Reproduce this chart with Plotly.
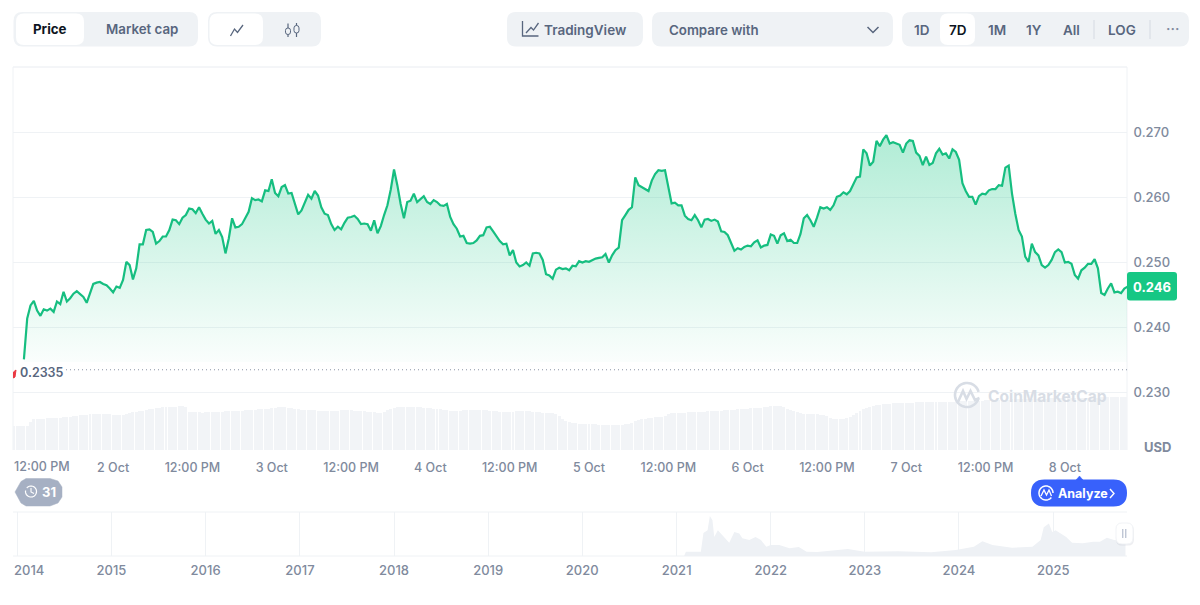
import math
import pandas as pd
import plotly.graph_objects as go

# Seven-day price, one reading every 30 minutes
prices = [
0.2351,0.2414,0.2434,0.2441,0.2426,0.2418,0.2428,0.2426,0.2429,0.2424,
0.2440,0.2436,0.2455,0.2440,0.2445,0.2452,0.2456,0.2451,0.2447,0.2438,
0.2453,0.2467,0.2469,0.2470,0.2467,0.2465,0.2460,0.2454,0.2463,0.2461,
0.2473,0.2501,0.2496,0.2474,0.2491,0.2528,0.2528,0.2550,0.2551,0.2547,
0.2529,0.2533,0.2540,0.2540,0.2550,0.2566,0.2565,0.2559,0.2569,0.2573,
0.2583,0.2582,0.2576,0.2585,0.2575,0.2566,0.2560,0.2564,0.2544,0.2550,
0.2539,0.2514,0.2537,0.2568,0.2554,0.2555,0.2559,0.2569,0.2578,0.2599,
0.2596,0.2597,0.2594,0.2611,0.2610,0.2628,0.2607,0.2602,0.2616,0.2619,
0.2606,0.2607,0.2592,0.2574,0.2580,0.2591,0.2604,0.2598,0.2610,0.2603,
0.2585,0.2575,0.2573,0.2559,0.2550,0.2555,0.2551,0.2561,0.2569,0.2570,
0.2572,0.2567,0.2559,0.2560,0.2559,0.2549,0.2565,0.2545,0.2556,0.2573,
0.2588,0.2612,0.2643,0.2619,0.2590,0.2568,0.2593,0.2595,0.2606,0.2593,
0.2598,0.2602,0.2593,0.2590,0.2596,0.2593,0.2588,0.2587,0.2590,0.2570,
0.2559,0.2552,0.2540,0.2541,0.2530,0.2529,0.2530,0.2534,0.2541,0.2542,
0.2554,0.2555,0.2548,0.2541,0.2533,0.2528,0.2529,0.2511,0.2519,0.2500,
0.2494,0.2496,0.2500,0.2495,0.2514,0.2515,0.2514,0.2504,0.2482,0.2480,
0.2475,0.2489,0.2492,0.2490,0.2491,0.2488,0.2495,0.2494,0.2502,0.2500,
0.2502,0.2501,0.2504,0.2506,0.2507,0.2508,0.2513,0.2500,0.2511,0.2519,
0.2523,0.2565,0.2573,0.2581,0.2585,0.2631,0.2619,0.2616,0.2612,0.2610,
0.2626,0.2636,0.2642,0.2641,0.2642,0.2616,0.2591,0.2592,0.2588,0.2588,
0.2572,0.2567,0.2565,0.2573,0.2565,0.2554,0.2566,0.2567,0.2564,0.2566,
0.2563,0.2548,0.2547,0.2542,0.2531,0.2518,0.2522,0.2520,0.2524,0.2526,
0.2525,0.2531,0.2534,0.2523,0.2526,0.2527,0.2543,0.2541,0.2529,0.2542,
0.2545,0.2533,0.2535,0.2530,0.2530,0.2544,0.2568,0.2573,0.2565,0.2555,
0.2569,0.2585,0.2583,0.2585,0.2581,0.2588,0.2601,0.2603,0.2608,0.2605,
0.2610,0.2620,0.2631,0.2632,0.2674,0.2668,0.2649,0.2655,0.2687,0.2679,
0.2689,0.2696,0.2683,0.2685,0.2683,0.2681,0.2669,0.2683,0.2688,0.2687,
0.2669,0.2664,0.2650,0.2663,0.2650,0.2653,0.2668,0.2675,0.2666,0.2668,
0.2660,0.2674,0.2670,0.2658,0.2622,0.2610,0.2601,0.2601,0.2589,0.2602,
0.2606,0.2605,0.2611,0.2613,0.2613,0.2619,0.2618,0.2646,0.2649,0.2606,
0.2575,0.2550,0.2540,0.2509,0.2501,0.2529,0.2516,0.2511,0.2496,0.2492,
0.2496,0.2504,0.2516,0.2520,0.2516,0.2500,0.2501,0.2498,0.2481,0.2475,
0.2488,0.2492,0.2498,0.2498,0.2505,0.2491,0.2453,0.2450,0.2460,0.2468,
0.2454,0.2455,0.2453,0.2460,0.2463,
]

# Trading volume for the same window, in millions of USD
volumes = [
24,24,24,24,24,28,31,31,31,31, 32,32,32,32,32,33,33,33,34,34,
35,35,35,36,36,36,36,36,36,36, 35,35,35,35,36,37,38,38,39,39,
40,41,41,42,42,43,43,43,43,43, 44,44,43,38,38,38,38,37,38,38,
38,38,38,38,39,39,39,39,39,39, 40,40,40,40,41,41,41,41,42,42,
43,43,43,42,42,41,41,40,40,40, 40,40,39,39,39,39,39,39,39,40,
40,40,40,39,39,39,39,38,38,38, 37,37,38,40,41,42,43,43,43,43,
43,43,43,43,42,42,42,41,41,41, 40,40,39,39,39,39,40,40,40,40,
40,40,40,40,39,39,39,38,38,38, 38,38,39,39,39,39,39,38,38,38,
37,37,37,37,36,34,31,29,28,27, 27,26,26,26,26,26,26,25,25,25,
25,25,25,25,25,26,26,27,29,30, 31,31,32,32,33,33,33,34,36,37,
37,37,37,37,38,38,38,38,38,38, 39,39,39,39,39,40,40,40,40,41,
41,41,41,42,42,42,42,43,43,44, 44,44,44,43,41,40,39,38,37,36,
36,36,36,36,35,35,34,32,31,31, 31,31,32,33,35,37,39,41,42,43,
44,45,45,46,46,46,47,47,47,47, 47,47,47,48,48,48,48,48,48,48,
48,48,48,48,48,48,49,49,49,49, 49,49,49,49,50,50,50,50,50,50,
50,50,51,51,51,51,51,51,51,51, 51,51,51,52,52,52,52,52,52,52,
52,52,52,52,52,52,52,52,52,53, 53,53,53,53,53,53,53,53,
]

# Long-range price history for the overview strip
history_dates = [
"2021-01-30","2021-02-06","2021-04-05","2021-04-15","2021-05-01","2021-05-10","2021-05-20","2021-05-27",
"2021-06-10","2021-07-05","2021-07-24","2021-08-13","2021-09-01","2021-09-13","2021-10-10","2021-11-03",
"2021-11-24","2021-12-15","2022-01-01","2022-02-03","2022-03-15","2022-04-20","2022-05-20","2022-07-01",
"2022-10-27","2023-01-01","2023-05-10","2023-09-15","2023-12-20","2024-02-28","2024-04-01","2024-05-10",
"2024-07-25","2024-10-12","2024-11-13","2024-11-25","2024-12-15","2024-12-28","2025-01-10","2025-02-20",
"2025-03-15","2025-04-25","2025-06-05","2025-07-01","2025-07-28","2025-08-25","2025-10-08",
]
history_prices = [
0.00,0.17,0.17,0.93,1.04,1.61,1.44,0.77,1.04,0.75,0.53,0.97,0.91,0.71,0.64,0.77,
0.64,0.37,0.44,0.44,0.31,0.36,0.17,0.16,0.28,0.17,0.19,0.15,0.24,0.37,0.59,0.44,
0.33,0.37,0.64,1.16,1.31,0.97,1.04,0.77,0.53,0.51,0.57,0.57,0.73,0.64,0.61,
]

day_ticks = [
"2025-10-02 00:00","2025-10-02 12:00","2025-10-03 00:00","2025-10-03 12:00","2025-10-04 00:00",
"2025-10-04 12:00","2025-10-05 00:00","2025-10-05 12:00","2025-10-06 00:00","2025-10-06 12:00",
"2025-10-07 00:00","2025-10-07 12:00","2025-10-08 00:00",
]
day_labels = ["2 Oct","12:00 PM","3 Oct","12:00 PM","4 Oct","12:00 PM","5 Oct","12:00 PM","6 Oct","12:00 PM","7 Oct","12:00 PM","8 Oct"]
price_ticks = [0.230, 0.240, 0.250, 0.260, 0.270]
year_ticks = [f"{y}-01-01" for y in range(2014, 2026)]
year_labels = [""] + [str(y) for y in range(2015, 2026)]

low_price = 0.2335
last_price = "0.246"
fill_floor = 0.2347

FONT = "Inter"
GREEN = "#16C784"
PANEL = "#EFF2F5"
GRID = "#EFF2F5"
SLATE = "#58667E"
MUTED = "#808A9D"
INK = "#0D1421"

W, H = 1200, 605
LEFT, RIGHT, TOP, BOTTOM = 13, 1127, 67, 556


def X(px):
    return (px - LEFT) / (RIGHT - LEFT)


def Y(py):
    return (BOTTOM - py) / (BOTTOM - TOP)


def poly(points, close=False):
    d = "M " + " L ".join(f"{X(a):.5f},{Y(b):.5f}" for a, b in points)
    return d + (" Z" if close else "")


def round_rect(x0, y0, x1, y1, r):
    def p(a, b):
        return f"{X(a):.5f},{Y(b):.5f}"
    return (
        f"M {p(x0 + r, y0)} L {p(x1 - r, y0)} Q {p(x1, y0)} {p(x1, y0 + r)} "
        f"L {p(x1, y1 - r)} Q {p(x1, y1)} {p(x1 - r, y1)} L {p(x0 + r, y1)} "
        f"Q {p(x0, y1)} {p(x0, y1 - r)} L {p(x0, y0 + r)} Q {p(x0, y0)} {p(x0 + r, y0)} Z"
    )


def arc(cx, cy, r, a0, a1, n=40):
    return [(cx + r * math.cos(math.radians(a0 + (a1 - a0) * i / n)),
             cy + r * math.sin(math.radians(a0 + (a1 - a0) * i / n))) for i in range(n + 1)]


shapes, notes = [], []


def box(x0, y0, x1, y1, r, color, line=None):
    shapes.append(dict(type="path", xref="paper", yref="paper", path=round_rect(x0, y0, x1, y1, r),
                       fillcolor=color, line=dict(width=1 if line else 0, color=line or color), layer="above"))


def stroke(points, color, width=1.3, close=False, fill=None):
    shapes.append(dict(type="path", xref="paper", yref="paper", path=poly(points, close),
                       fillcolor=fill or "rgba(0,0,0,0)", line=dict(width=width, color=color), layer="above"))


def rule(x0, y0, x1, y1, color=GRID, width=1):
    shapes.append(dict(type="line", xref="paper", yref="paper", x0=X(x0), x1=X(x1), y0=Y(y0), y1=Y(y1),
                       line=dict(color=color, width=width), layer="below"))


def label(px, py, text, size=13, color=SLATE, weight=600, anchor="center"):
    notes.append(dict(xref="paper", yref="paper", x=X(px), y=Y(py), text=text, showarrow=False,
                      xanchor=anchor, yanchor="middle",
                      font=dict(family=FONT, size=size, color=color, weight=weight)))


times = pd.date_range("2025-10-01 10:30", periods=len(prices), freq="30min")
volume_times = pd.date_range("2025-10-01 09:00", periods=len(volumes), freq="30min")

fig = go.Figure()

fig.add_trace(go.Bar(x=volume_times, y=volumes, yaxis="y2", width=1_620_000,
                     marker=dict(color="#F2F4F7", line=dict(width=0)), hoverinfo="skip"))
fig.add_trace(go.Scatter(x=times, y=[fill_floor] * len(prices), mode="lines",
                         line=dict(width=0), hoverinfo="skip"))
fig.add_trace(go.Scatter(x=times, y=prices, mode="lines", fill="tonexty",
                         line=dict(color="#16BE80", width=2.2),
                         fillgradient=dict(type="vertical", start=fill_floor, stop=0.270,
                                           colorscale=[[0, "rgba(22,199,132,0.02)"], [1, "rgba(22,199,132,0.34)"]])))
fig.add_trace(go.Scatter(x=history_dates, y=history_prices, xaxis="x2", yaxis="y3", mode="lines",
                         fill="tozeroy", fillcolor="#EEF1F5", line=dict(width=0), hoverinfo="skip"))

# Chart frame
rule(13, 67, 1127, 67, "#E9ECF1")
rule(13, 67, 13, 450)
rule(1127, 67, 1127, 450)
rule(13, 512, 1127, 512)
rule(13, 556, 1127, 556)

# Session low marker
shapes.append(dict(type="line", xref="paper", yref="y", x0=X(66), x1=1, y0=low_price, y1=low_price,
                   line=dict(color="#8B94A6", width=1, dash="1px,3px"), layer="above"))
label(18, 372, str(low_price), 12.5, SLATE, 600, "left")
stroke([(13.5, 378), (13.5, 372), (16, 370), (15, 377)], "#EA3943", 1, True, "#EA3943")

# Price / market cap switch
box(13.5, 12, 198, 46.5, 9, PANEL)
box(16, 13.5, 84, 45, 8, "#FFFFFF")
label(50, 29, "Price", 13.3, INK, 700)
label(142, 29, "Market cap", 13.3, SLATE, 600)

# Line / candle switch
box(208, 12, 321, 46.5, 9, PANEL)
box(209.5, 13.5, 263, 45, 8, "#FFFFFF")
stroke([(230.5, 36), (234.5, 29), (237.5, 32.5), (243, 25)], SLATE)
stroke([(288, 23.5), (288, 37)], SLATE, 1.2)
box(285.5, 28, 290.5, 34.5, 2.4, "#EFF2F5", SLATE)
stroke([(296.5, 23), (296.5, 37)], SLATE, 1.2)
box(294, 25.5, 299, 33, 2.4, "#EFF2F5", SLATE)

# TradingView and compare controls
box(507, 12, 643, 46.5, 9, PANEL)
stroke([(522.5, 21), (522.5, 36), (538.5, 36)], SLATE)
stroke([(526, 33), (531, 27.5), (533.5, 30), (538.5, 23)], SLATE)
label(585, 29.5, "TradingView", 13.5, SLATE, 600)
box(652, 12, 893, 46.5, 9, PANEL)
label(667, 30, "Compare with", 13.3, SLATE, 600, "left")
stroke([(867.5, 27), (873, 32.5), (878.5, 27)], SLATE, 1.5)

# Range selector
box(902, 12, 1189, 46.5, 9, PANEL)
box(940, 13.5, 975, 45, 8, "#FFFFFF")
for cx, txt, col in [(922, "1D", SLATE), (958, "7D", INK), (997, "1M", SLATE), (1034, "1Y", SLATE),
                     (1071, "All", SLATE), (1122, "LOG", SLATE)]:
    label(cx, 29.5, txt, 13.5, col, 600)
label(1172, 28, "···", 14, MUTED, 600)
shapes.append(dict(type="line", xref="paper", yref="paper", x0=X(1094), x1=X(1094), y0=Y(20), y1=Y(39),
                   line=dict(color="#D5DAE2", width=1), layer="above"))
shapes.append(dict(type="line", xref="paper", yref="paper", x0=X(1150), x1=X(1150), y0=Y(20), y1=Y(39),
                   line=dict(color="#D5DAE2", width=1), layer="above"))

# Watermark
stroke(arc(967, 395, 12, 20, 345), "#D8DDE5", 2.6)
stroke([(958, 402), (963, 391), (966.5, 399), (970.5, 391), (975, 400), (979.5, 398)], "#D8DDE5", 2.6)
label(986, 396, "CoinMarketCap", 15.5, "#D8DDE5", 700, "left")

# Current price tag and currency
box(1127, 272, 1177, 300.5, 3, GREEN)
label(1152, 287, last_price, 13, "#FFFFFF", 700)
label(1157, 447, "USD", 13, MUTED, 700)

# First tick sits inside the left edge
label(12, 466.5, "12:00 PM", 12.5, MUTED, 500, "left")
label(12, 570, "2014", 13, MUTED, 500, "left")

# History badge
stroke([(15, 492), (21, 481.5), (26, 478.5), (50, 478.5), (58, 481), (62, 487), (62, 497), (58, 503),
        (50, 506), (26, 506), (21, 503)], "#A6B0C3", 0.5, True, "#A6B0C3")
stroke(arc(31, 491.5, 5.5, -140, 190), "#FFFFFF", 1.2)
stroke([(31, 488), (31, 492), (34, 493.5)], "#FFFFFF", 1.1)
label(49, 492, "31", 13, "#FFFFFF", 700)

# Analyze button
box(1031, 479.5, 1127, 506.5, 13.5, "#3861FB")
stroke([(1076, 480), (1079.5, 476), (1083, 480)], "#3861FB", 0.5, True, "#3861FB")
stroke(arc(1046, 493, 7, 40, 360), "#FFFFFF", 1.5)
stroke([(1041, 496), (1044, 490), (1046.5, 495), (1049, 490), (1051.5, 496)], "#FFFFFF", 1.3)
label(1056, 493, "Analyze", 12.5, "#FFFFFF", 700, "left")
stroke([(1110, 489), (1114, 493.5), (1110, 498)], "#FFFFFF", 1.4)

# Overview range handle
box(1116, 524.5, 1134, 545.5, 6, "rgba(128,138,157,0.14)")
box(1116, 523, 1133, 544, 6, "#FFFFFF", "#F1F3F6")
stroke([(1122.8, 529), (1122.8, 538)], "#A6B0C3", 1)
stroke([(1125.8, 529), (1125.8, 538)], "#A6B0C3", 1)

fig.update_layout(
    width=W, height=H, autosize=False,
    margin=dict(l=LEFT, r=W - RIGHT, t=TOP, b=H - BOTTOM),
    paper_bgcolor="#FFFFFF", plot_bgcolor="#FFFFFF",
    showlegend=False, bargap=0, hovermode=False,
    font=dict(family=FONT, size=13, color=MUTED),
    shapes=shapes, annotations=notes,
    xaxis=dict(domain=[0, 1], anchor="y", type="date",
               range=["2025-10-01 08:51", "2025-10-08 09:24"],
               tickmode="array", tickvals=day_ticks, ticktext=day_labels, tickangle=0,
               ticks="outside", ticklen=6, tickcolor="rgba(0,0,0,0)",
               tickfont=dict(family=FONT, size=12.5, color=MUTED, weight=500),
               showgrid=False, zeroline=False, showline=False),
    yaxis=dict(domain=[(BOTTOM - 450) / (BOTTOM - TOP), 1], anchor="x", side="right",
               range=[0.221154, 0.280077], tickmode="array", tickvals=price_ticks,
               ticktext=[f"{v:.3f}" for v in price_ticks],
               ticks="outside", ticklen=3, tickcolor="rgba(0,0,0,0)",
               tickfont=dict(family=FONT, size=13, color=MUTED, weight=500),
               showgrid=True, gridcolor=GRID, gridwidth=1, zeroline=False, showline=False),
    yaxis2=dict(domain=[(BOTTOM - 450) / (BOTTOM - TOP), 1], overlaying="y", side="left",
                range=[0, 383], visible=False),
    xaxis2=dict(domain=[0, 0.9991], anchor="y3", type="date",
                range=["2013-12-15", "2025-10-10"],
                tickmode="array", tickvals=year_ticks, ticktext=year_labels, tickangle=0,
                ticks="outside", ticklen=2, tickcolor="rgba(0,0,0,0)",
                tickfont=dict(family=FONT, size=13, color=MUTED, weight=500),
                showgrid=True, gridcolor=GRID, gridwidth=1, zeroline=False, showline=False),
    yaxis3=dict(domain=[0, (BOTTOM - 512) / (BOTTOM - TOP)], anchor="x2",
                range=[0, 1.772], visible=False),
)

fig.write_html("out.html", config=dict(displayModeBar=False))
